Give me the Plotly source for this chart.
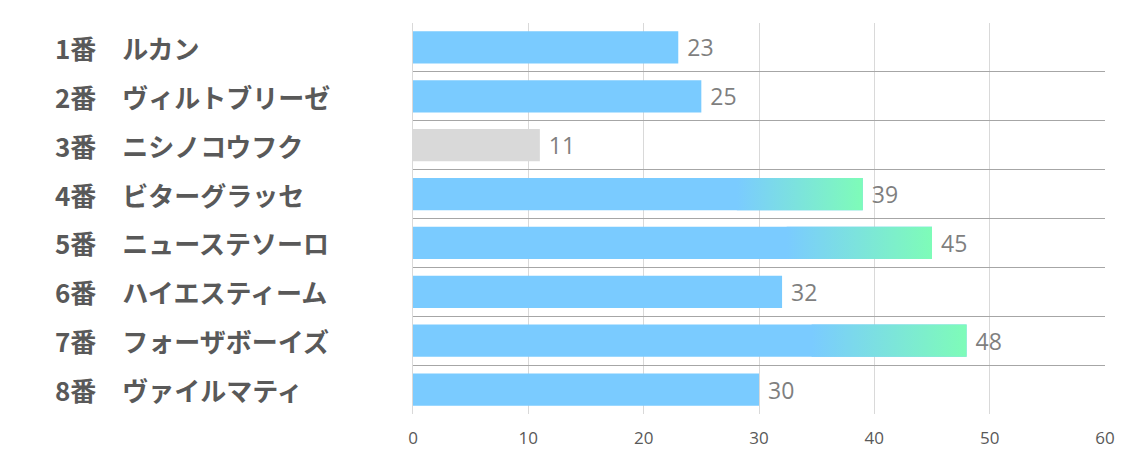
import plotly.graph_objects as go

labels = ["1番　ルカン", "2番　ヴィルトブリーゼ", "3番　ニシノコウフク", "4番　ビターグラッセ",
          "5番　ニューステソーロ", "6番　ハイエスティーム", "7番　フォーザボーイズ", "8番　ヴァイルマティ"]
values = [23, 25, 11, 39, 45, 32, 48, 30]
x_ticks = [0, 10, 20, 30, 40, 50, 60]

BLUE = "#7ACBFF"
GREEN = "#7EFCB8"
GRAY = "#D9D9D9"
BAR_H = 0.66
GRAD_FROM = 0.72

idx = list(range(len(values)))
colors = [GRAY if v < 20 else BLUE for v in values]

fig = go.Figure()
fig.add_trace(go.Bar(
    x=values, y=idx, orientation="h", width=BAR_H,
    marker=dict(color=colors, line=dict(width=0)),
    text=[str(v) for v in values], texttemplate=" %{text}", textposition="outside",
    textfont=dict(family="Open Sans, Noto Sans", size=23, color="#7F7F7F"),
    cliponaxis=False, hoverinfo="skip",
))

for i, v in zip(idx, values):
    if v >= 35:
        x0 = v * GRAD_FROM
        fig.add_trace(go.Scatter(
            x=[x0, v, v, x0, x0],
            y=[i - BAR_H / 2, i - BAR_H / 2, i + BAR_H / 2, i + BAR_H / 2, i - BAR_H / 2],
            mode="lines", line=dict(width=0), fill="toself",
            fillgradient=dict(type="horizontal", colorscale=[[0, BLUE], [1, GREEN]]),
            hoverinfo="skip", showlegend=False,
        ))

for i, lab in zip(idx, labels):
    fig.add_annotation(
        x=-0.52, xref="paper", y=i, yref="y", text=lab, showarrow=False,
        xanchor="left", yanchor="middle",
        font=dict(family="Noto Sans CJK JP", size=26, color="#595959", weight="bold"),
    )

fig.update_layout(
    width=1134, height=453,
    margin=dict(l=413, r=29, t=23, b=39),
    plot_bgcolor="white", paper_bgcolor="white",
    showlegend=False,
    xaxis=dict(range=[0, 60], tickvals=x_ticks, showgrid=True, gridcolor="#D9D9D9",
               gridwidth=1, zeroline=False, showline=False, automargin=False,
               tickfont=dict(family="Open Sans, Noto Sans", size=17, color="#595959"),
               ticks="", ticklabelstandoff=12, fixedrange=True),
    yaxis=dict(range=[7.5, -0.5], tickvals=[k - 0.5 for k in range(len(values) + 1)],
               showticklabels=False, showgrid=True, gridcolor="#A6A6A6", gridwidth=1,
               zeroline=False, showline=True, linecolor="#D9D9D9", linewidth=1,
               ticks="", fixedrange=True, automargin=False),
)

fig.write_html("out.html")
